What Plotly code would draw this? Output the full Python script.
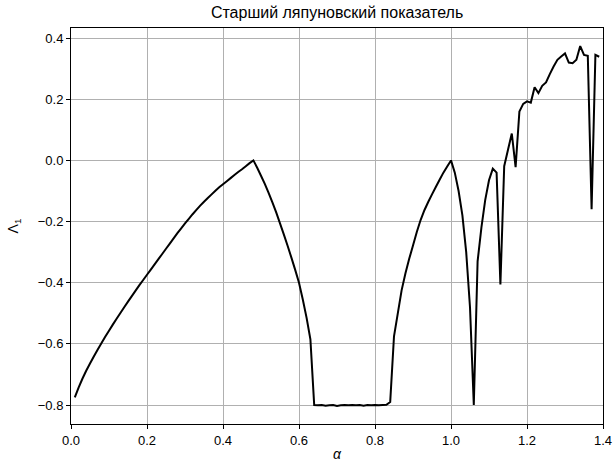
import plotly.graph_objects as go

alpha = [0.01, 0.02, 0.03, 0.04, 0.05, 0.06, 0.07, 0.08, 0.09, 0.10,
         0.11, 0.12, 0.13, 0.14, 0.15, 0.16, 0.17, 0.18, 0.19, 0.20,
         0.21, 0.22, 0.23, 0.24, 0.25, 0.26, 0.27, 0.28, 0.29, 0.30,
         0.31, 0.32, 0.33, 0.34, 0.35, 0.36, 0.37, 0.38, 0.39, 0.40,
         0.41, 0.42, 0.43, 0.44, 0.45, 0.46, 0.47, 0.48, 0.49, 0.50,
         0.51, 0.52, 0.53, 0.54, 0.55, 0.56, 0.57, 0.58, 0.59, 0.60,
         0.61, 0.62, 0.63, 0.64, 0.65, 0.66, 0.67, 0.68, 0.69, 0.70,
         0.71, 0.72, 0.73, 0.74, 0.75, 0.76, 0.77, 0.78, 0.79, 0.80,
         0.81, 0.82, 0.83, 0.84, 0.85, 0.86, 0.87, 0.88, 0.89, 0.90,
         0.91, 0.92, 0.93, 0.94, 0.95, 0.96, 0.97, 0.98, 0.99, 1.00,
         1.01, 1.02, 1.03, 1.04, 1.05, 1.06, 1.07, 1.08, 1.09, 1.10,
         1.11, 1.12, 1.13, 1.14, 1.15, 1.16, 1.17, 1.18, 1.19, 1.20,
         1.21, 1.22, 1.23, 1.24, 1.25, 1.26, 1.27, 1.28, 1.29, 1.30,
         1.31, 1.32, 1.33, 1.34, 1.35, 1.36, 1.37, 1.38, 1.39]

lyap = [-0.775, -0.743, -0.714, -0.688, -0.664, -0.641, -0.619, -0.598, -0.577, -0.557,
        -0.537, -0.518, -0.499, -0.480, -0.462, -0.444, -0.426, -0.408, -0.391, -0.374,
        -0.357, -0.340, -0.323, -0.306, -0.289, -0.272, -0.255, -0.238, -0.222, -0.206,
        -0.191, -0.176, -0.162, -0.148, -0.135, -0.123, -0.111, -0.099, -0.088, -0.078,
        -0.068, -0.058, -0.048, -0.038, -0.029, -0.019, -0.009, 0.000, -0.024, -0.050,
        -0.077, -0.106, -0.137, -0.170, -0.206, -0.242, -0.279, -0.318, -0.358, -0.400,
        -0.455, -0.515, -0.585, -0.800, -0.801, -0.800, -0.802, -0.801, -0.800, -0.803,
        -0.801, -0.800, -0.801, -0.800, -0.801, -0.800, -0.802, -0.800, -0.801, -0.800,
        -0.801, -0.800, -0.799, -0.790, -0.575, -0.500, -0.425, -0.370, -0.322, -0.278,
        -0.234, -0.195, -0.163, -0.136, -0.111, -0.087, -0.063, -0.040, -0.020, 0.000,
        -0.040, -0.100, -0.180, -0.300, -0.480, -0.800, -0.330, -0.220, -0.130, -0.065,
        -0.027, -0.040, -0.406, -0.019, 0.035, 0.088, -0.022, 0.160, 0.185, 0.193,
        0.189, 0.239, 0.220, 0.244, 0.255, 0.282, 0.307, 0.329, 0.340, 0.350,
        0.320, 0.318, 0.329, 0.374, 0.345, 0.342, -0.160, 0.345, 0.339]

x_ticks = [0.0, 0.2, 0.4, 0.6, 0.8, 1.0, 1.2, 1.4]
x_tick_labels = ["0.0", "0.2", "0.4", "0.6", "0.8", "1.0", "1.2", "1.4"]
y_ticks = [-0.8, -0.6, -0.4, -0.2, 0.0, 0.2, 0.4]
y_tick_labels = ["\u22120.8", "\u22120.6", "\u22120.4", "\u22120.2", "0.0", "0.2", "0.4"]

title_text = "Старший ляпуновский показатель"
x_title = "<i>α</i>"
y_title = "Λ<sub>1</sub>"

FONT = "Liberation Sans, Arial, Helvetica, sans-serif"

fig = go.Figure()
fig.add_trace(go.Scatter(x=alpha, y=lyap, mode="lines",
                         line=dict(color="black", width=2, simplify=False),
                         cliponaxis=True, showlegend=False))

axis_common = dict(
    showline=True, linecolor="black", linewidth=1, mirror=True,
    ticks="outside", ticklen=4, tickwidth=1, tickcolor="black",
    showgrid=True, gridcolor="#b0b0b0", gridwidth=1,
    zeroline=False, automargin=False,
    tickfont=dict(family=FONT, size=13, color="black"),
)

fig.update_layout(
    width=614, height=466,
    paper_bgcolor="white", plot_bgcolor="white",
    margin=dict(l=71, r=11, t=28, b=42),
    title=dict(text=title_text, x=0.549, xanchor="center",
               y=1 - 12 / 466, yanchor="middle", yref="container",
               font=dict(family=FONT, size=16, color="black")),
    xaxis=dict(range=[0, 1.4], tickvals=x_ticks, ticktext=x_tick_labels,
               title=dict(text=x_title, standoff=2,
                          font=dict(family=FONT, size=14, color="black")),
               **axis_common),
    yaxis=dict(range=[-0.862, 0.433], tickvals=y_ticks, ticktext=y_tick_labels,
               title=dict(text=y_title, standoff=15,
                          font=dict(family=FONT, size=14, color="black")),
               **axis_common),
)

fig.write_html("out.html",
               config={"displayModeBar": False},
               post_script="document.body.style.margin='0px';"
                           "document.body.style.padding='0px';"
                           "document.body.style.overflow='hidden';")
